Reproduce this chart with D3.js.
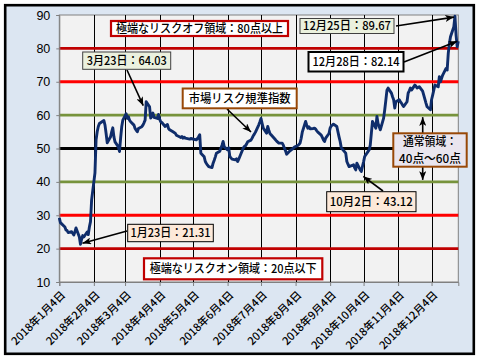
<!DOCTYPE html>
<html><head><meta charset="utf-8">
<script src="https://cdn.jsdelivr.net/npm/d3@7"></script>
<style>body{margin:0;background:#fff}svg{display:block}</style>
</head><body>
<svg id="c" width="480" height="360"></svg>
<script>
// ---- data ----
const dates = ["01-04","01-05","01-09","01-10","01-11","01-12","01-15","01-16","01-17","01-18","01-19","01-22","01-23","01-24","01-25","01-26","01-29","01-30","01-31",
"02-01","02-02","02-05","02-06","02-07","02-08","02-09","02-13","02-14","02-15","02-16","02-19","02-20","02-21","02-22","02-23","02-26","02-27","02-28",
"03-01","03-02","03-05","03-06","03-07","03-08","03-09","03-12","03-13","03-14","03-15","03-16","03-19","03-20","03-21","03-22","03-23","03-26","03-27","03-28","03-29","03-30",
"04-02","04-03","04-04","04-05","04-06","04-09","04-10","04-11","04-12","04-13","04-16","04-17","04-18","04-19","04-20","04-23","04-24","04-25","04-26","04-27",
"05-01","05-02","05-07","05-08","05-09","05-10","05-11","05-14","05-15","05-16","05-17","05-18","05-21","05-22","05-23","05-24","05-25","05-28","05-29","05-30","05-31",
"06-01","06-04","06-05","06-06","06-07","06-08","06-11","06-12","06-13","06-14","06-15","06-18","06-19","06-20","06-21","06-22","06-25","06-26","06-27","06-28","06-29",
"07-02","07-03","07-04","07-05","07-06","07-09","07-10","07-11","07-12","07-13","07-17","07-18","07-19","07-20","07-23","07-24","07-25","07-26","07-27","07-30","07-31",
"08-01","08-02","08-03","08-06","08-07","08-08","08-09","08-10","08-13","08-14","08-15","08-16","08-17","08-20","08-21","08-22","08-23","08-24","08-27","08-28","08-29","08-30","08-31",
"09-03","09-04","09-05","09-06","09-07","09-10","09-11","09-12","09-13","09-14","09-18","09-19","09-20","09-21","09-25","09-26","09-27","09-28",
"10-01","10-02","10-03","10-04","10-05","10-09","10-10","10-11","10-12","10-15","10-16","10-17","10-18","10-19","10-22","10-23","10-24","10-25","10-26","10-29","10-30","10-31",
"11-01","11-02","11-05","11-06","11-07","11-08","11-09","11-12","11-13","11-14","11-15","11-16","11-19","11-20","11-21","11-22","11-23","11-26","11-27","11-28","11-29","11-30",
"12-03","12-04","12-05","12-06","12-07","12-10","12-11","12-12","12-13","12-14","12-17","12-18","12-19","12-20","12-21","12-24","12-25","12-26","12-27","12-28"];
const values = [29.2,27.8,26.5,25.6,25.4,24.8,25.1,24.6,24.1,25.0,26.2,23.5,21.31,22.8,23.9,23.5,25.0,24.2,26.5,
28.1,34.6,42.7,52.6,55.0,56.6,57.5,58.4,57.0,54.5,51.7,53.5,55.0,56.2,53.5,52.0,50.5,49.1,53.0,
56.5,58.5,60.4,59.0,59.5,58.5,58.0,57.0,56.0,55.5,55.0,56.0,56.5,57.0,57.7,58.5,64.03,62.5,59.1,59.8,60.6,59.3,
59.0,60.2,58.8,58.0,57.8,56.6,57.0,57.2,56.0,55.6,55.0,54.8,54.6,54.0,53.8,53.3,53.6,53.1,53.4,53.1,
52.8,53.0,52.6,53.0,53.5,54.1,48.6,47.5,46.1,45.5,45.0,44.6,44.3,45.6,46.5,47.5,48.6,49.2,50.1,51.0,52.1,
50.5,49.6,50.2,47.6,47.2,46.8,46.6,46.9,46.1,46.8,47.6,50.1,50.6,50.8,51.3,52.0,52.5,53.1,53.8,54.3,54.9,
57.1,58.0,59.0,57.5,56.1,54.6,56.6,55.5,54.5,54.1,52.6,52.2,51.9,51.6,51.6,51.0,50.1,49.3,48.3,49.3,49.6,
49.8,50.1,50.4,50.9,51.2,51.6,53.0,54.9,58.1,57.0,56.1,56.5,55.9,56.0,56.1,55.8,55.3,54.9,54.0,53.3,52.6,52.1,53.1,
54.5,56.1,56.8,57.0,57.3,56.6,55.0,53.5,52.1,50.2,48.6,46.1,45.3,44.6,45.1,44.2,43.6,45.6,
43.6,43.12,44.6,46.0,47.6,49.6,51.0,54.6,58.1,56.1,59.6,57.5,56.6,55.6,59.1,61.6,64.5,67.5,68.1,66.6,65.5,64.6,
62.1,64.0,64.6,64.0,63.6,63.0,62.6,64.0,66.6,67.3,68.1,67.5,69.0,68.7,68.1,68.3,68.5,67.2,66.0,64.8,63.6,62.5,
61.6,64.6,66.0,67.5,69.0,68.5,71.5,70.0,71.0,72.0,74.0,73.5,78.5,81.5,83.5,86.5,89.67,84.0,80.5,82.14];
const yTicks = [10,20,30,40,50,60,70,80,90];
const tickMonths = [1,2,3,4,5,6,7,8,9,10,11,12];
const levelValues = [80,70,60,50,40,30,20];
const levelColors = ["#C00000","#FF0000","#77933C","#000000","#77933C","#FF0000","#C00000"];

// ---- layout ----
const svg = d3.select("#c");
const L = 59.3, R = 458.3, T = 15, B = 282;
const parse = s => new Date(2018, +s.slice(0,2)-1, +s.slice(3,5));
const data = dates.map((d,i)=>({date: parse(d), v: values[i]}));
const x = d3.scaleTime().domain([new Date(2018,0,4), new Date(2018,11,28)]).range([L,R]);
const y = d3.scaleLinear().domain([10,90]).range([B,T]);

// outer
svg.append("rect").attr("x",5.2).attr("y",5.2).attr("width",468.6).attr("height",348.6)
  .attr("fill","#DCE6F2").attr("stroke","#000").attr("stroke-width",2.6);
// plot area
svg.append("rect").attr("x",L).attr("y",T).attr("width",R-L).attr("height",B-T)
  .attr("fill","#F2F2F2").attr("stroke","#808080").attr("stroke-width",1);

const tickDates = tickMonths.map(m=>new Date(2018,m-1,4));
// vertical gridlines
svg.append("g").selectAll("line").data(tickDates.slice(1)).join("line")
  .attr("x1",d=>Math.round(x(d))+0.5).attr("x2",d=>Math.round(x(d))+0.5)
  .attr("y1",T).attr("y2",B).attr("stroke","#000").attr("stroke-width",1);

// level lines
svg.append("g").selectAll("line").data(levelValues).join("line")
  .attr("x1",L).attr("x2",R).attr("y1",d=>y(d)).attr("y2",d=>y(d))
  .attr("stroke",(d,i)=>levelColors[i]).attr("stroke-width",2.8);

// x axis
const xAxis = d3.axisBottom(x).tickValues(tickDates).tickSize(4).tickFormat("");
const gx = svg.append("g").attr("transform",`translate(0,${B})`).call(xAxis);
gx.select(".domain").attr("stroke","#808080");
gx.selectAll(".tick line").attr("stroke","#808080");
svg.append("g").selectAll("text").data(tickDates).join("text")
  .attr("transform",d=>`translate(${x(d)+4},${B+11}) rotate(-45)`)
  .attr("text-anchor","end").attr("dy","0.35em")
  .attr("font-family","'Noto Sans CJK JP', sans-serif").attr("font-size",11).attr("font-weight",500).attr("fill","#000")
  .text(d=>`2018年${d.getMonth()+1}月4日`);

// y axis
const yAxis = d3.axisLeft(y).tickValues(yTicks).tickSize(3).tickPadding(6);
const gy = svg.append("g").attr("transform",`translate(${L},0)`).call(yAxis);
gy.select(".domain").attr("stroke","#808080");
gy.selectAll(".tick line").attr("stroke","#808080");
gy.selectAll("text").attr("font-family","'Liberation Sans', Arial, sans-serif").attr("font-size",12.5).attr("fill","#000");

// series line
svg.append("path").datum(data)
  .attr("d", d3.line().x(d=>x(d.date)).y(d=>y(d.v)))
  .attr("fill","none").attr("stroke","#0F2D6B").attr("stroke-width",2.9).attr("stroke-linejoin","round");

// arrow marker
const defs = svg.append("defs");
defs.append("marker").attr("id","ah").attr("viewBox","0 0 10 8").attr("refX",10).attr("refY",4)
  .attr("markerWidth",9).attr("markerHeight",7).attr("markerUnits","userSpaceOnUse").attr("orient","auto")
  .append("path").attr("d","M0,0 L10,4 L0,8 L2.5,4 Z").attr("fill","#000");

function arrow(x1,y1,x2,y2){
  svg.append("line").attr("x1",x1).attr("y1",y1).attr("x2",x2).attr("y2",y2)
    .attr("stroke","#000").attr("stroke-width",1.6).attr("marker-end","url(#ah)");
}
// arrows (endpoints anchored to data points)
const pt = s => { const i = dates.indexOf(s); return [x(data[i].date), y(data[i].v)]; };
let p;
p = pt("12-25"); arrow(396, 26, p[0]-1, p[1]+1);
p = pt("12-28"); arrow(404, 62, p[0]-1, p[1]);
p = pt("03-23"); arrow(127, 70, p[0]-3, p[1]+4);
arrow(227, 109, 251, 132);
p = pt("10-02"); arrow(383, 191, p[0]+2, p[1]+5);
p = pt("01-23"); arrow(127, 231, p[0]+2, p[1]-1);
// double arrow for normal zone
arrow(422.7, 133, 422.7, y(60)+2);
arrow(422.7, 167, 422.7, y(40)-2);

function box(x0,y0,x1,y1,fill,stroke,sw,lines,tl){
  svg.append("rect").attr("x",x0).attr("y",y0).attr("width",x1-x0).attr("height",y1-y0)
    .attr("fill",fill).attr("stroke",stroke).attr("stroke-width",sw);
  const n = lines.length, h = (y1-y0);
  lines.forEach((t,i)=>{
    const cy = y0 + h*(i+0.5)/n;
    const el = svg.append("text").attr("x",(x0+x1)/2).attr("y",cy).attr("dy","0.36em")
      .attr("text-anchor","middle").attr("font-family","'Noto Sans CJK JP', sans-serif")
      .attr("font-size",12).attr("font-weight",500).attr("fill","#000").text(t);
    if (tl && tl[i]) el.attr("textLength",tl[i]).attr("lengthAdjust","spacingAndGlyphs");
  });
}
box(111,21,288,36,"#fff","#C00000",2.2,["極端なリスクオフ領域：80点以上"],[167]);
box(300,18.5,394,33.5,"#EBF1DE","#404040",1,["12月25日：89.67"],[88]);
box(308.5,52,403.5,71.5,"#fff","#000",2,["12月28日：82.14"],[87]);
box(82.7,52,170.7,69.3,"#EBF1DE","#404040",1,["3月23日：64.03"],[80]);
box(182.7,88.5,296.7,108.3,"#fff","#984807",2,["市場リスク規準指数"],[102]);
box(393.3,133.3,466.7,166.7,"#E9E5EE","#984807",2,["通常領域：","40点～60点"],[54,62]);
box(326.7,191.7,416,211.7,"#FDE9D9","#000",1,["10月2日：43.12"],[83]);
box(127.7,224.3,213.3,241.7,"#FDE9D9","#000",1,["1月23日：21.31"],[80]);
box(144,258.3,322.3,279.3,"#fff","#C00000",2.2,["極端なリスクオン領域：20点以下"],[167]);
</script>
</body></html>
